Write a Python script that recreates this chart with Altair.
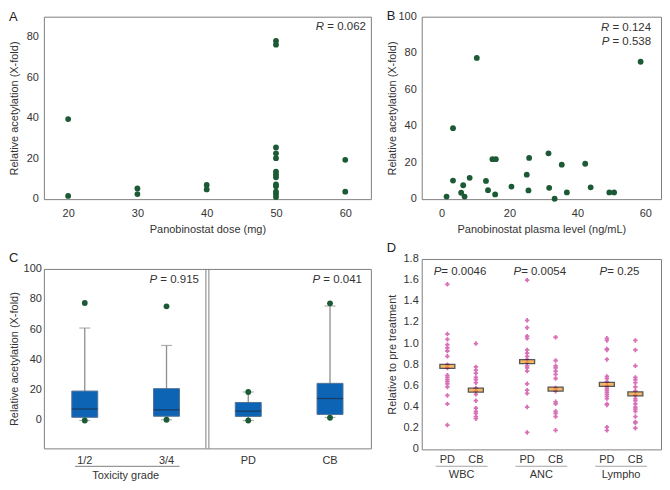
import altair as alt
import pandas as pd

FONT = "Liberation Sans"
GREEN = "#1b5a35"
TXT = "#333333"
BLUE = "#0d63b4"
PINK = "#d870b8"
ORANGE = "#f39a25"

# ---------------- Panel A ----------------
a_dose = [20, 20, 30, 30, 40, 40] + [50] * 13 + [60, 60]
a_acet = [39.5, 1.6, 5.3, 2.5, 7.0, 4.8,
          78.1, 76.2, 25.5, 22.6, 20.2, 13.5, 12.1, 10.8, 7.3, 6.4, 3.7, 2.5, 1.0,
          19.4, 3.7]
a_xticks = [20, 30, 40, 50, 60]
a_yticks = [0, 20, 40, 60, 80]
a_ylabels = ["0", "20", "40", "60", "80"]
a_stat = ["R", " = 0.062"]

# ---------------- Panel B ----------------
b_level = [1.5, 3.4, 3.4, 5.8, 6.4, 6.8, 8.3, 10.4, 13.1, 13.7, 15.0, 16.0, 15.8, 20.6,
           25.1, 25.8, 25.6, 31.5, 31.7, 33.3, 35.4, 36.9, 42.3, 43.9, 49.4, 50.8, 58.6]
b_acet = [1.4, 38.9, 10.2, 3.5, 7.6, 1.4, 11.7, 77.4, 10.0, 4.9, 21.9, 21.9, 2.6, 6.9,
          13.4, 22.6, 4.8, 25.1, 6.2, 0.2, 18.9, 3.7, 19.4, 6.5, 3.7, 3.7, 75.3]
b_xticks = [0, 20, 40, 60]
b_yticks = [0, 20, 40, 60, 80, 100]
b_ylabels = ["0", "20", "40", "60", "80", "100"]
b_stats = [["R", " = 0.124"], ["P", " = 0.538"]]

# ---------------- Panel C ----------------
c_cats = ["1/2", "3/4", "PD", "CB"]
c_q1 = [2.1, 2.8, 2.7, 4.0]
c_med = [7.6, 7.0, 6.2, 14.5]
c_q3 = [19.4, 21.0, 11.9, 24.5]
c_wlo = [0.0, 0.5, 0.0, 2.0]
c_whi = [61.0, 49.5, 18.8, 75.5]
c_pt_cat = ["1/2", "1/2", "3/4", "3/4", "PD", "PD", "CB", "CB"]
c_pt_val = [0.0, 77.5, 0.5, 75.3, 0.0, 18.8, 1.8, 77.3]
c_stats = [["P", " = 0.915"], ["P", " = 0.041"]]
c_group_title = "Toxicity grade"

# ---------------- Panel D ----------------
d_groups = ["WBC", "ANC", "Lympho"]
d_resp = ["PD", "CB"]
d_wbc_pd = [1.56, 1.09, 1.04, 0.99, 0.96, 0.93, 0.88, 0.80, 0.77, 0.70, 0.68, 0.66, 0.64, 0.62, 0.59, 0.51, 0.43, 0.23]
d_wbc_cb = [1.00, 0.78, 0.75, 0.72, 0.68, 0.66, 0.63, 0.58, 0.55, 0.52, 0.46, 0.39, 0.36, 0.34, 0.31, 0.29]
d_anc_pd = [1.60, 1.22, 1.15, 1.07, 1.05, 0.94, 0.91, 0.88, 0.85, 0.82, 0.79, 0.77, 0.74, 0.62, 0.56, 0.53, 0.40, 0.16]
d_anc_cb = [1.06, 0.84, 0.79, 0.77, 0.74, 0.71, 0.67, 0.58, 0.55, 0.45, 0.43, 0.36, 0.34, 0.31, 0.18]
d_lym_pd = [1.05, 1.03, 0.95, 0.94, 0.85, 0.69, 0.67, 0.64, 0.60, 0.58, 0.56, 0.54, 0.52, 0.50, 0.48, 0.43, 0.42, 0.21, 0.18]
d_lym_cb = [1.03, 0.94, 0.79, 0.68, 0.66, 0.63, 0.59, 0.55, 0.51, 0.48, 0.46, 0.43, 0.40, 0.38, 0.36, 0.31, 0.26, 0.25, 0.20]
d_medians = [0.785, 0.56, 0.83, 0.57, 0.615, 0.525]
d_pvals = [" = 0.0046", " = 0.0054", " = 0.25"]
d_yticks = [0, 0.2, 0.4, 0.6, 0.8, 1.0, 1.2, 1.4, 1.6, 1.8]
d_ylabels = ["0", "0.2", "0.4", "0.6", "0.8", "1.0", "1.2", "1.4", "1.6", "1.8"]

# ---------------- helpers ----------------
W_EM = {"P": 0.667, "R": 0.722, "=": 0.584, " ": 0.278, ".": 0.278}


def tw(s, fs):
    return sum(W_EM.get(ch, 0.556) for ch in s) * fs


ANN_FS = 11.5
LET_FS = 13


def letter(ch, y):
    return alt.Chart(pd.DataFrame({"t": [ch]})).mark_text(
        align="left", baseline="middle", fontSize=LET_FS, color="#222", font=FONT
    ).encode(text="t:N", x=alt.value(-35), y=alt.value(y))


def stat_right(pair, xr, y):
    sym, rest = pair
    rest_w = tw(rest, ANN_FS)
    l1 = alt.Chart(pd.DataFrame({"t": [rest]})).mark_text(
        align="right", baseline="middle", fontSize=ANN_FS, color=TXT, font=FONT
    ).encode(text="t:N", x=alt.value(xr), y=alt.value(y))
    l2 = alt.Chart(pd.DataFrame({"t": [sym]})).mark_text(
        align="right", baseline="middle", fontSize=ANN_FS, color=TXT, font=FONT, fontStyle="italic"
    ).encode(text="t:N", x=alt.value(xr - rest_w), y=alt.value(y))
    return l1 + l2


def yaxis(title):
    return alt.Axis(title=title, labels=False, titlePadding=24)


def ylabels(vals, labs, pad, color=TXT):
    return alt.Chart(pd.DataFrame({"v": vals, "lab": labs})).mark_text(
        align="right", baseline="middle", fontSize=11, color=color, font=FONT, dx=-pad
    ).encode(x=alt.value(0), y="v:Q", text="lab:N")


WA, HA = 328, 183
WB, HB = 240, 183
WC, HC = 328, 180
WD, HD = 240, 191

# ---------------- A ----------------
dfA = pd.DataFrame({"dose": a_dose, "acet": a_acet})
A_pts = alt.Chart(dfA).mark_circle(size=34, color=GREEN, opacity=1).encode(
    x=alt.X("dose:Q", scale=alt.Scale(domain=[16.5, 63.7], nice=False, zero=False),
            axis=alt.Axis(values=a_xticks, title="Panobinostat dose (mg)", labelPadding=8, titlePadding=5,
                          labelOverlap=False, labelFlush=False)),
    y=alt.Y("acet:Q", scale=alt.Scale(domain=[0, 90], nice=False),
            axis=yaxis("Relative acetylation (X-fold)")),
)
A_spacer = alt.Chart(pd.DataFrame({"v": [60]})).mark_rule(strokeOpacity=0, strokeWidth=1).encode(
    x=alt.value(0), x2=alt.value(1), y="v:Q")
A = alt.layer(A_pts, ylabels(a_yticks, a_ylabels, 5), A_spacer, stat_right(a_stat, WA - 5, 10),
              letter("A", 0)).properties(width=WA, height=HA)

# ---------------- B ----------------
dfB = pd.DataFrame({"level": b_level, "acet": b_acet})
B_pts = alt.Chart(dfB).mark_circle(size=34, color=GREEN, opacity=1).encode(
    x=alt.X("level:Q", scale=alt.Scale(domain=[-5.8, 64.6], nice=False, zero=False),
            axis=alt.Axis(values=b_xticks, title="Panobinostat plasma level (ng/mL)", labelPadding=8,
                          titlePadding=5, labelOverlap=False, labelFlush=False)),
    y=alt.Y("acet:Q", scale=alt.Scale(domain=[0, 100], nice=False),
            axis=yaxis("Relative acetylation (X-fold)")),
)
B = alt.layer(B_pts, ylabels(b_yticks, b_ylabels, 5),
              stat_right(b_stats[0], WB - 10, 11), stat_right(b_stats[1], WB - 10, 25),
              letter("B", -1)).properties(width=WB, height=HB)

# ---------------- C ----------------
dfC = pd.DataFrame({"cat": c_cats, "q1": c_q1, "med": c_med, "q3": c_q3, "wlo": c_wlo, "whi": c_whi})
dfCp = pd.DataFrame({"cat": c_pt_cat, "val": c_pt_val})
cx = alt.X("cat:N", sort=c_cats, scale=alt.Scale(paddingInner=0, paddingOuter=0),
           axis=alt.Axis(title=None, labelAngle=0, labelPadding=6))
cy_scale = alt.Scale(domain=[-18.4, 100], nice=False, zero=False)
baseC = alt.Chart(dfC)
C_whisk = baseC.mark_rule(color="#8e8e8e", strokeWidth=1.3).encode(
    x=cx, y=alt.Y("wlo:Q", scale=cy_scale, axis=yaxis("Relative acetylation (X-fold)")), y2="whi:Q")
C_cap_lo = baseC.mark_tick(orient="horizontal", size=11, thickness=1.2, color="#8e8e8e").encode(x=cx, y="wlo:Q")
C_cap_hi = baseC.mark_tick(orient="horizontal", size=11, thickness=1.2, color="#8e8e8e").encode(x=cx, y="whi:Q")
C_box = baseC.mark_bar(size=26, color=BLUE, stroke="#4f7197", strokeWidth=1).encode(x=cx, y="q1:Q", y2="q3:Q")
C_med = baseC.mark_tick(orient="horizontal", size=26, thickness=1.2, color="#1c2b40").encode(x=cx, y="med:Q")
C_pts = alt.Chart(dfCp).mark_circle(size=34, color=GREEN, opacity=1).encode(x=cx, y="val:Q")
div = pd.DataFrame({"k": [0]})
C_div1 = alt.Chart(div).mark_rule(color="#7f7f7f", strokeWidth=1).encode(
    x=alt.value(WC / 2 - 1.5), y=alt.value(0), y2=alt.value(HC))
C_div2 = alt.Chart(div).mark_rule(color="#7f7f7f", strokeWidth=1).encode(
    x=alt.value(WC / 2 + 1.5), y=alt.value(0), y2=alt.value(HC))
C_uline = alt.Chart(div).mark_rule(color="#7f7f7f", strokeWidth=1).encode(
    x=alt.value(WC * 0.095), x2=alt.value(WC * 0.415), y=alt.value(HC + 18))
C_gtitle = alt.Chart(pd.DataFrame({"t": [c_group_title]})).mark_text(
    fontSize=11, color=TXT, font=FONT, baseline="middle").encode(
    text="t:N", x=alt.value(WC * 0.25), y=alt.value(HC + 28))
C = alt.layer(C_whisk, C_cap_lo, C_cap_hi, C_box, C_med, C_pts, C_div1, C_div2,
              ylabels(b_yticks, b_ylabels, 2),
              stat_right(c_stats[0], WC / 2 - 8.5, 11), stat_right(c_stats[1], WC - 9, 11),
              C_uline, C_gtitle, letter("C", -10.5)).properties(width=WC, height=HC)

# ---------------- D ----------------
d_vals = [d_wbc_pd, d_wbc_cb, d_anc_pd, d_anc_cb, d_lym_pd, d_lym_cb]
rows = []
i = 0
for g in d_groups:
    for r in d_resp:
        for v in d_vals[i]:
            rows.append({"group": g, "resp": r, "val": v})
        i += 1
dfD = pd.DataFrame(rows)
dfDm = pd.DataFrame({"group": [g for g in d_groups for _ in d_resp],
                     "resp": d_resp * len(d_groups), "med": d_medians})
dx_ = alt.X("group:N", sort=d_groups, scale=alt.Scale(paddingInner=0, paddingOuter=0),
            axis=alt.Axis(title=None, labelAngle=0, labelPadding=19))
dxo = alt.XOffset("resp:N", sort=d_resp, scale=alt.Scale(paddingInner=0, paddingOuter=0.4))
dy_scale = alt.Scale(domain=[0, 1.8], nice=False)
D_pts = alt.Chart(dfD).mark_point(shape="cross", filled=True, size=20, color=PINK, opacity=1).encode(
    x=dx_, xOffset=dxo,
    y=alt.Y("val:Q", scale=dy_scale, axis=yaxis("Relative to pre treatment")))
D_med = alt.Chart(dfDm).mark_tick(orient="horizontal", size=15, thickness=4, color=ORANGE,
                                  stroke="#111111", strokeWidth=1.3).encode(x=dx_, xOffset=dxo, y="med:Q")
D_sub = alt.Chart(dfDm).mark_text(fontSize=11, color=TXT, font=FONT, baseline="middle").encode(
    x=dx_, xOffset=dxo, text="resp:N", y=alt.value(HD + 11))
D_ul = alt.Chart(pd.DataFrame({"group": d_groups})).mark_tick(
    orient="horizontal", size=52, thickness=1, color="#7f7f7f").encode(x=dx_, y=alt.value(HD + 17))
D_layers = [D_pts, D_med, ylabels(d_yticks, d_ylabels, 3), D_sub, D_ul]
for g, pv in zip(d_groups, d_pvals):
    tot = tw("P" + pv, ANN_FS)
    gdf = pd.DataFrame({"group": [g], "sym": ["P"], "rest": [pv]})
    D_layers.append(alt.Chart(gdf).mark_text(
        align="left", baseline="middle", fontSize=ANN_FS, color=TXT, font=FONT, fontStyle="italic",
        dx=-tot / 2).encode(x=dx_, text="sym:N", y=alt.value(13)))
    D_layers.append(alt.Chart(gdf).mark_text(
        align="left", baseline="middle", fontSize=ANN_FS, color=TXT, font=FONT,
        dx=-tot / 2 + tw("P", ANN_FS)).encode(x=dx_, text="rest:N", y=alt.value(13)))
D_layers.append(letter("D", -10.5))
D = alt.layer(*D_layers).properties(width=WD, height=HD)

left = alt.vconcat(A, C, spacing=70, bounds="flush")
right = alt.vconcat(B, D, spacing=60, bounds="flush")
chart = alt.hconcat(left, right, spacing=14).properties(padding=0)

chart = chart.configure_view(stroke="#7f7f7f", strokeWidth=1).configure_axis(
    domain=False, ticks=False, tickSize=0, grid=False, labelOverlap=False,
    labelFont=FONT, labelFontSize=11, labelColor=TXT,
    titleFont=FONT, titleFontSize=11, titleFontWeight="normal", titleColor=TXT,
).configure_text(font=FONT)

chart.save("out.html", embed_options={"renderer": "svg", "actions": False})
